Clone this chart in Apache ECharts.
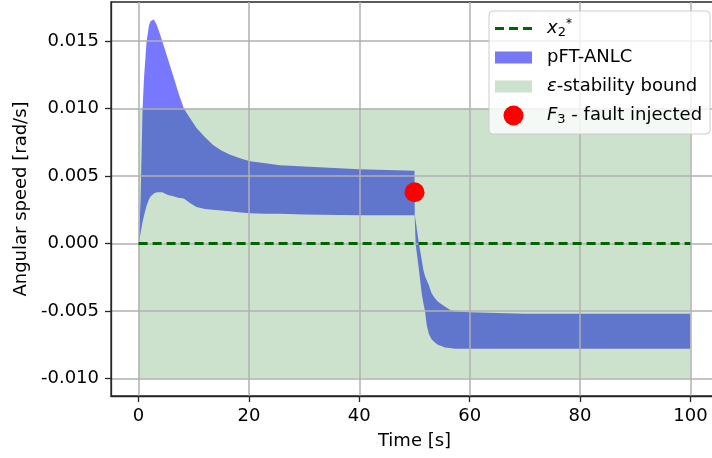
<!DOCTYPE html>
<html><head><meta charset="utf-8">
<script src="https://cdn.jsdelivr.net/npm/echarts@6/dist/echarts.min.js"></script>
<style>html,body{margin:0;padding:0;background:#fff}#c{width:712px;height:458px}</style>
</head><body><div id="c"></div>
<script>
// ---- data ----
const time = [0, 0.2, 0.36, 0.72, 1.0, 1.45, 1.9, 2.2, 2.77, 3.3, 3.9, 4.3, 5.3, 6.3, 7.2, 8.2, 9.3, 10.5, 12.0, 13.5, 15.0, 16.5, 18.5, 20.2, 23.0, 25.6, 30, 40, 50, 50.05, 50.2, 50.8, 51.3, 51.6, 51.9, 52.2, 52.6, 53.1, 53.6, 54.2, 54.9, 55.5, 56.4, 57.3, 60, 70, 80, 90, 100];
const upper = [0, 0.0017, 0.0032, 0.0100, 0.0124, 0.0150, 0.0162, 0.0165, 0.0166, 0.0162, 0.0155, 0.0150, 0.0137, 0.0124, 0.0112, 0.0100, 0.0093, 0.00856, 0.0079, 0.0073, 0.0069, 0.0066, 0.0063, 0.0061, 0.00595, 0.0058, 0.0057, 0.0055, 0.0054, 0.0021, 0.0017, 0.0000, -0.0012, -0.00195, -0.0024, -0.0027, -0.0031, -0.00368, -0.0040, -0.0043, -0.0045, -0.00467, -0.0049, -0.00504, -0.0051, -0.0052, -0.0052, -0.0052, -0.0052];
const lower = [0, 0.0004, 0.0008, 0.0016, 0.0021, 0.0028, 0.0033, 0.0035, 0.0037, 0.0038, 0.0038, 0.0038, 0.0036, 0.0035, 0.0034, 0.00333, 0.0030, 0.0027, 0.00255, 0.0025, 0.00245, 0.0024, 0.0023, 0.00225, 0.0022, 0.0022, 0.00215, 0.0021, 0.0021, 0.0019, 0.0000, -0.00195, -0.00368, -0.0044, -0.0050, -0.0060, -0.0067, -0.0071, -0.0073, -0.0075, -0.0076, -0.0077, -0.00775, -0.0078, -0.0078, -0.0078, -0.0078, -0.0078, -0.0078];
const refTime = [0, 100];
const refValue = [0, 0];
const bandTime = [0, 100];
const bandLow = [-0.01, -0.01];
const bandHigh = [0.01, 0.01];
const faultTime = [50];
const faultValue = [0.0038];
const xTicks = [0, 20, 40, 60, 80, 100];
const yTicks = [-0.010, -0.005, 0.000, 0.005, 0.010, 0.015];
const legendLabels = {
  'x2star': '{it|x}{sub|2}{sup|*}',
  'pFT-ANLC': 'pFT-ANLC',
  'eps': '{it|ε}-stability bound',
  'F3': '{it|F}{sub|3} - fault injected'
};

// ---- chart ----
const FONT = 'DejaVu Sans';
const chart = echarts.init(document.getElementById('c'), null, {renderer: 'canvas'});
const gridColor = '#b0b0b0';
const spine = '#262626';

function fillBetween(ts, lo, hi, fill) {
  return function (params, api) {
    const pts = [];
    for (let i = 0; i < ts.length; i++) pts.push(api.coord([ts[i], hi[i]]));
    for (let i = ts.length - 1; i >= 0; i--) pts.push(api.coord([ts[i], lo[i]]));
    return {type: 'polygon', shape: {points: pts}, style: {fill: fill, stroke: null}};
  };
}

const option = {
  animation: false,
  backgroundColor: '#ffffff',
  grid: {
    left: 111, right: -6, top: 2, bottom: 62,
    show: true, borderColor: spine, borderWidth: 1.3, backgroundColor: 'transparent',
    outerBoundsMode: 'none', containLabel: false
  },
  xAxis: {
    type: 'value', min: -5, max: 105, z: 3,
    name: 'Time [s]', nameLocation: 'middle', nameGap: 36,
    nameTextStyle: {fontFamily: FONT, fontSize: 18, color: '#000'},
    axisLine: {show: true, onZero: false, lineStyle: {color: spine, width: 1.3}},
    axisTick: {show: true, length: 6, customValues: xTicks, lineStyle: {color: spine, width: 1.3}},
    axisLabel: {customValues: xTicks, margin: 11, fontFamily: FONT, fontSize: 18, color: '#000',
      formatter: v => String(v)},
    splitLine: {show: true, lineStyle: {color: gridColor, width: 1.5}}
  },
  yAxis: {
    type: 'value', min: -0.0113, max: 0.0179, z: 3,
    name: 'Angular speed [rad/s]', nameLocation: 'middle', nameGap: 79, nameRotate: 90,
    nameTextStyle: {fontFamily: FONT, fontSize: 18, color: '#000'},
    axisLine: {show: true, onZero: false, lineStyle: {color: spine, width: 1.3}},
    axisTick: {show: true, length: 6, customValues: yTicks, lineStyle: {color: spine, width: 1.3}},
    axisLabel: {customValues: yTicks, margin: 12, fontFamily: FONT, fontSize: 18, color: '#000',
      formatter: v => (Math.abs(v) < 1e-12 ? 0 : v).toFixed(3)},
    splitLine: {show: true, lineStyle: {color: gridColor, width: 1.5}}
  },
  legend: {
    orient: 'vertical', left: 489, top: 11, z: 10,
    itemWidth: 47, itemHeight: 20, itemGap: 8,
    padding: [7, 8, 8, 6],
    backgroundColor: 'rgba(255,255,255,0.8)', borderColor: '#cccccc', borderWidth: 1, borderRadius: 4,
    selectedMode: false,
    textStyle: {fontFamily: FONT, fontSize: 18, color: '#000', lineHeight: 21,
      rich: {
        it: {fontFamily: FONT, fontSize: 18, fontStyle: 'italic', color: '#000', lineHeight: 21},
        sub: {fontFamily: FONT, fontSize: 13, color: '#000', lineHeight: 13, verticalAlign: 'bottom'},
        sup: {fontFamily: FONT, fontSize: 12, color: '#000', lineHeight: 12, verticalAlign: 'top'}
      }},
    formatter: name => legendLabels[name] || name,
    data: [
      {name: 'x2star', icon: 'path://M0 0M0 8.5L9 8.5L9 11.5L0 11.5ZM14 8.5L23 8.5L23 11.5L14 11.5ZM28 8.5L37 8.5L37 11.5L28 11.5ZM47 20',
        itemStyle: {color: '#006400', borderWidth: 0}},
      {name: 'pFT-ANLC', icon: 'path://M0 0M0 4L37 4L37 16L0 16ZM47 20',
        itemStyle: {color: '#7878f2', borderWidth: 0}},
      {name: 'eps', icon: 'path://M0 0M0 4L37 4L37 16L0 16ZM47 20',
        itemStyle: {color: '#cce2cc', borderWidth: 0}},
      {name: 'F3', icon: 'path://M0 0M8.5 10A10 10 0 1 0 28.5 10A10 10 0 1 0 8.5 10ZM47 20',
        itemStyle: {color: '#ff0000', borderWidth: 0}}
    ]
  },
  series: [
    {
      name: 'pFT-ANLC', type: 'custom', z: 1, silent: true,
      itemStyle: {color: '#7878f2'},
      encode: {x: 0, y: 1},
      renderItem: fillBetween(time, lower, upper, 'rgba(0,0,255,0.53)'),
      data: [[time[0], upper[0]]]
    },
    {
      name: 'eps', type: 'custom', z: 2, silent: true,
      itemStyle: {color: '#cce2cc'},
      encode: {x: 0, y: 1},
      renderItem: fillBetween(bandTime, bandLow, bandHigh, 'rgba(0,110,0,0.2)'),
      data: [[bandTime[0], bandLow[0]]]
    },
    {
      name: 'x2star', type: 'line', z: 4, silent: true, symbol: 'none',
      itemStyle: {color: '#006400'},
      lineStyle: {color: '#006400', width: 3, type: [9, 5]},
      data: refTime.map((t, i) => [t, refValue[i]])
    },
    {
      name: 'F3', type: 'scatter', z: 5, silent: true,
      symbol: 'circle', symbolSize: 20,
      itemStyle: {color: '#ff0000', opacity: 1},
      data: faultTime.map((t, i) => [t, faultValue[i]])
    }
  ]
};
chart.setOption(option);
</script>
</body></html>
